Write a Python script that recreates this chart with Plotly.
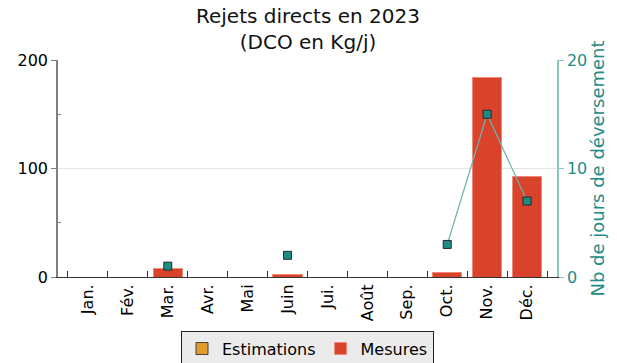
import plotly.graph_objects as go

mois = ["Jan.", "Fév.", "Mar.", "Avr.", "Mai", "Juin", "Jui.", "Août", "Sep.", "Oct.", "Nov.", "Déc."]
estimations = [0, 0, 0, 0, 0, 0, 0, 0, 0, 0, 0, 0]
mesures = [0, 0, 8, 0, 0, 2, 0, 0, 0, 4, 184, 93]
jours_deversement = [None, None, 1, None, None, 2, None, None, None, 3, 15, 7]

FONT = "DejaVu Sans"
TEAL = "#1f8c84"

fig = go.Figure()
fig.add_trace(go.Bar(
    x=mois, y=estimations, name="Estimations",
    marker=dict(color="#e39a2d", line=dict(color="#444", width=1)),
))
fig.add_trace(go.Bar(
    x=mois, y=mesures, name="Mesures",
    marker=dict(color="#d9432b", line=dict(color="#ef8a78", width=1)),
))
fig.add_trace(go.Scatter(
    x=mois, y=jours_deversement, yaxis="y2", mode="lines+markers",
    connectgaps=False, showlegend=False,
    line=dict(color="#6fb3ad", width=1.2),
    marker=dict(symbol="square", size=8, color=TEAL, line=dict(color="#1d2d2b", width=1)),
))

fig.update_layout(
    width=617, height=363,
    margin=dict(l=58, r=60, t=60, b=86, autoexpand=False),
    paper_bgcolor="white", plot_bgcolor="white",
    barmode="stack", bargap=0.27,
    font=dict(family=FONT, size=14, color="black"),
    annotations=[dict(
        text="Rejets directs en 2023<br>(DCO en Kg/j)", xref="paper", yref="paper",
        x=0.5, y=1, xanchor="center", yanchor="bottom", yshift=4, showarrow=False,
        font=dict(size=20, family=FONT, color="#111"),
    )],
    xaxis=dict(
        type="category", tickangle=-90, showline=True, linecolor="#333", linewidth=1,
        ticks="inside", tickson="boundaries", ticklen=6, tickcolor="#333",
        showgrid=False, tickfont=dict(size=16, family=FONT), automargin=False,
    ),
    yaxis=dict(
        range=[0, 200], tickvals=[0, 100, 200], showline=True, linecolor="#808080",
        linewidth=1.5, ticks="outside", ticklen=5, tickcolor="#808080",
        showgrid=True, gridcolor="#e6e6e6", zeroline=False,
        minor=dict(tickvals=[50, 150], ticks="inside", ticklen=3, tickcolor="#808080"),
        tickfont=dict(size=16, family=FONT), automargin=False,
    ),
    yaxis2=dict(
        overlaying="y", side="right", range=[0, 20], tickvals=[0, 10, 20],
        showline=True, linecolor="#8cc4bf", linewidth=1.5, ticks="outside",
        ticklen=5, tickcolor="#8cc4bf", showgrid=False, zeroline=False,
        tickfont=dict(size=16, color=TEAL, family=FONT), automargin=False,
        title=dict(text="Nb de jours de déversement", font=dict(size=18, color=TEAL, family=FONT),
                   standoff=0),
    ),
    legend=dict(
        orientation="h", traceorder="normal", x=0.5, xanchor="center",
        y=-0.33, yanchor="middle",
        bgcolor="#ebebeb", bordercolor="#222", borderwidth=1,
        font=dict(size=16, family=FONT), itemwidth=30, tracegroupgap=0,
    ),
)

fig.write_html("out.html")
